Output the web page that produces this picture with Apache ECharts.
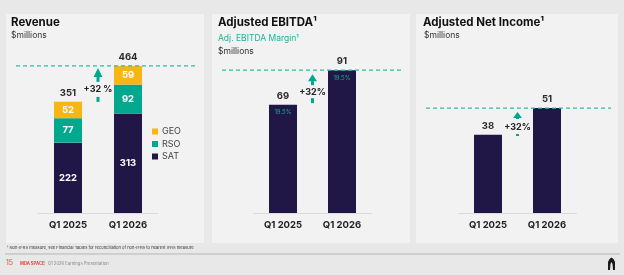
<!DOCTYPE html>
<html>
<head>
<meta charset="utf-8">
<script src="https://cdn.jsdelivr.net/npm/echarts@6/dist/echarts.min.js"></script>
<style>
  html, body { margin: 0; padding: 0; background: #e8e8e8; }
  #chart { width: 624px; height: 275px; }
</style>
</head>
<body>
<div id="chart"></div>
<script>
// data
const categories = ['Q1 2025', 'Q1 2026'];
const revSAT = [222, 313];
const revRSO = [77, 92];
const revGEO = [52, 59];
const ebitda = [69, 91];
const ebitdaMargin = ['19.5%', '19.5%'];
const netIncome = [38, 51];
const growthLabels = ['+32 %', '+32%', '+32%'];

const NAVY = '#201747';
const TEAL = '#00a98d';
const YELLOW = '#f7b614';
const FONT = 'Inter, "Noto Sans", sans-serif';

const revTotal = revSAT.map((v, i) => v + revRSO[i] + revGEO[i]);

const chart = echarts.init(document.getElementById('chart'));

function xAxisFor(gi) {
  return {
    type: 'category', gridIndex: gi, data: categories,
    axisTick: { show: false },
    axisLine: { lineStyle: { color: '#dadada', width: 1 } },
    axisLabel: { margin: 7, color: '#222', fontSize: 9.5, fontWeight: 'bold', fontFamily: FONT }
  };
}
function yAxisFor(gi, max) {
  return { type: 'value', gridIndex: gi, min: 0, max: max, show: false, splitLine: { show: false } };
}
const insideLabel = { show: true, position: 'inside', color: '#fff', fontSize: 9.5, fontWeight: 'bold', fontFamily: FONT };
const topLabel = { show: true, position: 'top', distance: 4, color: '#2a2a2a', fontSize: 9.5, fontWeight: 'bold', fontFamily: FONT };

let option = {
  backgroundColor: '#e8e8e8',
  animation: false,
  textStyle: { fontFamily: FONT },
  grid: [
    { left: 38, width: 120, top: 54.5, height: 158.5 },
    { left: 253.5, width: 118, top: 56, height: 157 },
    { left: 458.5, width: 118, top: 89.5, height: 123.5 }
  ],
  xAxis: [xAxisFor(0), xAxisFor(1), xAxisFor(2)],
  yAxis: [yAxisFor(0, 500), yAxisFor(1, 100), yAxisFor(2, 60)],
  legend: {
    data: ['GEO', 'RSO', 'SAT'],
    orient: 'vertical', left: 147, top: 122,
    itemWidth: 6, itemHeight: 6, itemGap: 3.5, icon: 'rect',
    textStyle: { color: '#444', fontSize: 9, fontFamily: FONT, padding: [0, 0, 0, -1] }
  },
  series: [
    { name: 'SAT', type: 'bar', stack: 'rev', xAxisIndex: 0, yAxisIndex: 0, barWidth: 28,
      itemStyle: { color: NAVY }, label: insideLabel, data: revSAT },
    { name: 'RSO', type: 'bar', stack: 'rev', xAxisIndex: 0, yAxisIndex: 0, barWidth: 28,
      itemStyle: { color: TEAL }, label: insideLabel, data: revRSO },
    { name: 'GEO', type: 'bar', stack: 'rev', xAxisIndex: 0, yAxisIndex: 0, barWidth: 28,
      itemStyle: { color: YELLOW }, label: insideLabel, data: revGEO },
    { name: 'total', type: 'bar', xAxisIndex: 0, yAxisIndex: 0, barWidth: 28, barGap: '-100%', silent: true,
      itemStyle: { color: 'rgba(0,0,0,0)' }, label: topLabel, data: revTotal },

    { name: 'EBITDA', type: 'bar', xAxisIndex: 1, yAxisIndex: 1, barWidth: 28,
      itemStyle: { color: NAVY }, label: topLabel, data: ebitda },
    { name: 'margin', type: 'bar', xAxisIndex: 1, yAxisIndex: 1, barWidth: 28, barGap: '-100%', silent: true,
      itemStyle: { color: 'rgba(0,0,0,0)' },
      label: { show: true, position: 'insideTop', distance: 5, color: '#1fa890', fontSize: 6, fontFamily: FONT,
        formatter: p => ebitdaMargin[p.dataIndex] },
      data: ebitda },

    { name: 'Net', type: 'bar', xAxisIndex: 2, yAxisIndex: 2, barWidth: 28,
      itemStyle: { color: NAVY }, label: topLabel, data: netIncome }
  ]
};
chart.setOption(option);

// panels, titles and footer
const panels = [
  { x: 6, w: 198 },
  { x: 212, w: 198 },
  { x: 416, w: 202 }
];
const g = [];
panels.forEach(p => {
  g.push({ type: 'rect', z: 0, shape: { x: p.x, y: 14, width: p.w, height: 229 }, style: { fill: '#f2f2f2' } });
});
function txt(text, x, y, font, fill, align) {
  return { type: 'text', z: 5, style: { text: text, x: x, y: y, font: font, fill: fill,
    textAlign: align || 'left', align: align || 'left', textVerticalAlign: 'middle', verticalAlign: 'middle' } };
}
g.push(txt('Revenue', 11, 23, 'bold 11.5px ' + FONT, '#111'));
g.push(txt('$millions', 11, 35, '8.5px ' + FONT, '#333'));
g.push(txt('Adjusted EBITDA¹', 218, 23, 'bold 11.5px ' + FONT, '#111'));
g.push(txt('Adj. EBITDA Margin¹', 218, 38, '8.5px ' + FONT, '#1fb396'));
g.push(txt('$millions', 218, 51, '8.5px ' + FONT, '#333'));
g.push(txt('Adjusted Net Income¹', 423, 23, 'bold 11.5px ' + FONT, '#111'));
g.push(txt('$millions', 424, 35, '8.5px ' + FONT, '#333'));

// footer
g.push(txt('¹ Non-IFRS measure, see Financial Tables for reconciliation of non-IFRS to nearest IFRS measure', 7, 248, '4.1px ' + FONT, '#333'));
g.push({ type: 'line', z: 5, shape: { x1: 5, y1: 254, x2: 620, y2: 254 }, style: { stroke: '#b5b5b5', lineWidth: 1 } });
g.push(txt('15', 6, 263, '7px ' + FONT, '#e5473d'));
g.push(txt('MDA SPACE', 20, 263.5, 'bold 4.2px ' + FONT, '#e5473d'));
g.push(txt('|  Q1 2026 Earnings Presentation', 44, 263.5, '4.2px ' + FONT, '#888'));
g.push({ type: 'polygon', z: 5, shape: { points: [[608, 270], [608, 262], [609.5, 259], [611.5, 257.5], [613.5, 259], [615, 262], [615, 270], [613, 270], [612.5, 264], [611.5, 262], [610.5, 264], [610, 270]] },
  style: { fill: '#1a1a1a' } });

// growth markers: dashed line at the later value, arrow between the bars
const growthPairs = [
  { grid: 0, value: revTotal[1], tip: 2, base: 11, shaftEnd: 16, text: 23, dash: [31, 36] },
  { grid: 1, value: ebitda[1], tip: 4, base: 11, shaftEnd: 15, text: 22, dash: [28, 33] },
  { grid: 2, value: netIncome[1], tip: 4, base: 10, shaftEnd: 11, text: 19, dash: [26, 28] }
];
growthPairs.forEach((gp, i) => {
  const p = panels[i];
  const a = chart.convertToPixel({ gridIndex: gp.grid }, [0, gp.value]);
  const b = chart.convertToPixel({ gridIndex: gp.grid }, [1, gp.value]);
  const y = b[1];
  const mx = (a[0] + b[0]) / 2;
  g.push({ type: 'line', z: 6, shape: { x1: p.x + 10, y1: y, x2: p.x + p.w - 7, y2: y },
    style: { stroke: '#2cc0a2', lineWidth: 1.3, lineDash: [4, 3] } });
  g.push({ type: 'polygon', z: 6, shape: { points: [[mx, y + gp.tip], [mx + 4.5, y + gp.base], [mx - 4.5, y + gp.base]] },
    style: { fill: TEAL } });
  g.push({ type: 'rect', z: 6, shape: { x: mx - 1.5, y: y + gp.base, width: 3, height: gp.shaftEnd - gp.base }, style: { fill: TEAL } });
  g.push(txt(growthLabels[i], mx, y + gp.text, 'bold 9px ' + FONT, '#222', 'center'));
  g.push({ type: 'rect', z: 6, shape: { x: mx - 1.5, y: y + gp.dash[0], width: 3, height: gp.dash[1] - gp.dash[0] }, style: { fill: TEAL } });
});

chart.setOption({ graphic: g });
</script>
</body>
</html>
